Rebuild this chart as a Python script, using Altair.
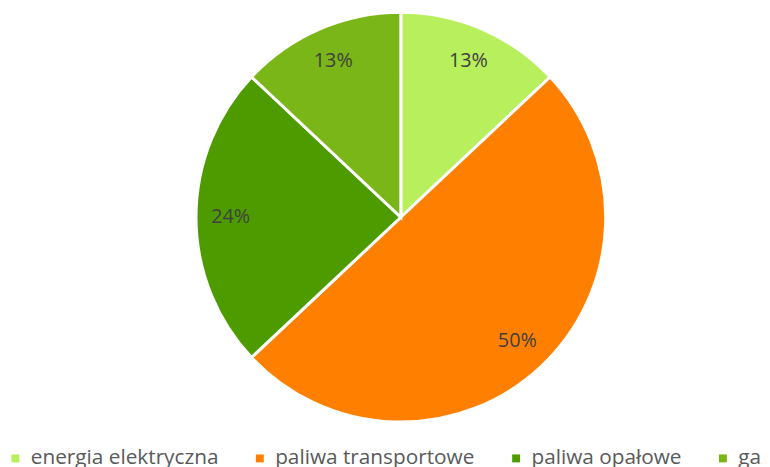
import altair as alt
import pandas as pd

categories = ["energia elektryczna", "paliwa transportowe", "paliwa opałowe", "gaz"]
values = [13, 50, 24, 13]
labels = ["13%", "50%", "24%", "13%"]
colors = ["#B8EF5C", "#FF8000", "#4E9B00", "#7AB617"]

df = pd.DataFrame({"cat": categories, "val": values, "lab": labels, "ord": list(range(len(categories)))})

cx, cy, R = 397, 209, 207

base = alt.Chart(df).encode(
    theta=alt.Theta("val:Q", stack=True),
    order=alt.Order("ord:Q"),
)

arcs = base.mark_arc(stroke="white", strokeWidth=3, radius=R).encode(
    x=alt.value(cx), y=alt.value(cy),
    color=alt.Color(
        "cat:N",
        scale=alt.Scale(domain=categories, range=colors),
        sort=categories,
        legend=alt.Legend(
            title=None, orient="none", direction="horizontal",
            legendX=-3, legendY=442,
            symbolType="square", symbolSize=64, symbolStrokeWidth=0,
            labelFontSize=21, labelFont="Open Sans", labelColor="#595959",
            labelOffset=5, columnPadding=31, labelLimit=400,
        ),
    ),
)

text = base.mark_text(radius=172, fontSize=20, font="Open Sans", color="#404040").encode(
    x=alt.value(cx), y=alt.value(cy), text="lab:N",
)

chart = (arcs + text).properties(
    width=762, height=459, autosize=alt.AutoSizeParams(type="none"), padding=0,
).configure_view(stroke=None)

chart.save("out.html", embed_options={"renderer": "svg", "actions": False})
